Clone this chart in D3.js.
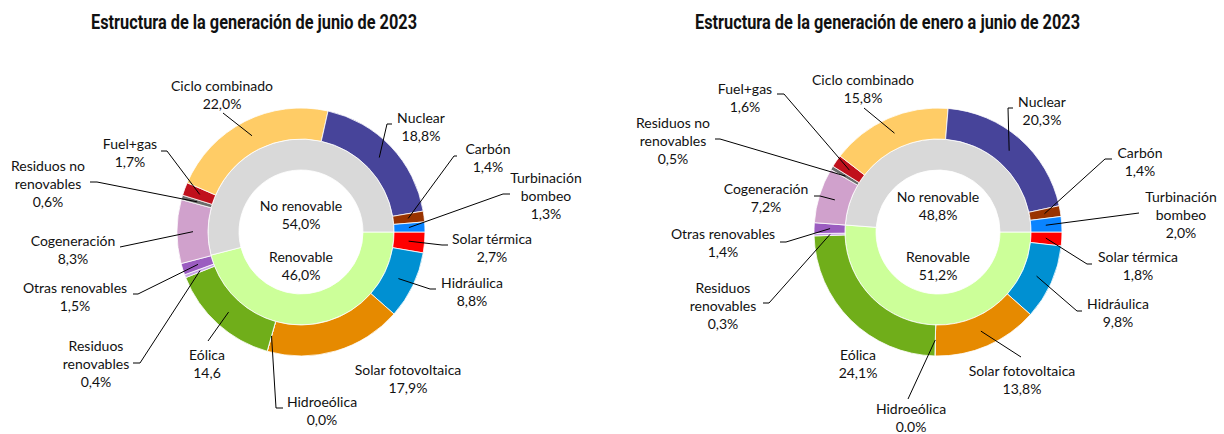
<!DOCTYPE html>
<html>
<head>
<meta charset="utf-8">
<script src="https://cdn.jsdelivr.net/npm/d3@7"></script>
<style>
  body { margin: 0; background: #fff; }
  .lbl { font-family: Lato, "Open Sans", sans-serif; font-size: 14px; fill: #111; }
  .title { font-family: Roboto, "DejaVu Sans", sans-serif; font-weight: 700; font-size: 21px; fill: #111; }
</style>
</head>
<body>
<div id="chart"></div>
<script>
// Fuentes de generacion, en el orden del anillo (desde las 3 en punto, sentido horario)
var sources = ["Solar térmica", "Hidráulica", "Solar fotovoltaica", "Hidroeólica", "Eólica",
  "Residuos renovables", "Otras renovables", "Cogeneración", "Residuos no renovables",
  "Fuel+gas", "Ciclo combinado", "Nuclear", "Carbón", "Turbinación bombeo"]
var sourceLines = [["Solar térmica"], ["Hidráulica"], ["Solar fotovoltaica"], ["Hidroeólica"], ["Eólica"],
  ["Residuos", "renovables"], ["Otras renovables"], ["Cogeneración"], ["Residuos no", "renovables"],
  ["Fuel+gas"], ["Ciclo combinado"], ["Nuclear"], ["Carbón"], ["Turbinación", "bombeo"]]
var sourceColors = ["#ff0000", "#0090d2", "#e68a00", "#5b9bd5", "#70ae1a",
  "#c7a3e6", "#9b5cc0", "#d0a1cc", "#6b6b6b", "#c0101c", "#ffcc66", "#47449a", "#993300", "#0a84ff"]

// junio 2023 (%)
var junio = [2.7, 8.8, 17.9, 0.0, 14.6, 0.4, 1.5, 8.3, 0.6, 1.7, 22.0, 18.8, 1.4, 1.3]
var junioLabels = ["2,7%", "8,8%", "17,9%", "0,0%", "14,6", "0,4%", "1,5%", "8,3%", "0,6%", "1,7%", "22,0%", "18,8%", "1,4%", "1,3%"]

// enero a junio 2023 (%)
var eneroJunio = [1.8, 9.8, 13.8, 0.0, 24.1, 0.3, 1.4, 7.2, 0.5, 1.6, 15.8, 20.3, 1.4, 2.0]
var eneroJunioLabels = ["1,8%", "9,8%", "13,8%", "0.0%", "24,1%", "0,3%", "1,4%", "7,2%", "0,5%", "1,6%", "15,8%", "20,3%", "1,4%", "2,0%"]

// anillo interior
var groups = ["Renovable", "No renovable"]
var groupColors = ["#ccff99", "#d9d9d9"]
var junioGroups = [46.0, 54.0]
var junioGroupLabels = ["46,0%", "54,0%"]
var eneroJunioGroups = [51.2, 48.8]
var eneroJunioGroupLabels = ["51,2%", "48,8%"]

// posiciones de etiquetas relativas al centro: [texto x, texto y, enganche x, enganche y, codo x, codo y]
var layoutJunio = [
  [191, 6, 147, 13, 141, 13],
  [171, 50, 135, 57, 129, 57],
  [107, 137, null],
  [21, 169, -18, 176, -25, 176],
  [-94, 122, -93, 109, -93, 109],
  [-205, 113, -168, 131, -161, 131],
  [-226, 55, -168, 62, -163, 62],
  [-228, 8, -181, 15, -181, 15],
  [-253, -67, -211, -50, -204, -50],
  [-171, -89, -140, -81, -134, -81],
  [-79, -147, -78, -119, -78, -119],
  [120, -115, 91, -108, 86, -108],
  [187, -84, 156, -76, 153, -76],
  [245, -55, 209, -38, 202, -38]
]
var layoutEnero = [
  [200, 24, 154, 32, 149, 32],
  [180, 71, 144, 79, 139, 79],
  [84, 138, 83, 125, 83, 125],
  [-27, 176, -30, 167, -30, 167],
  [-80, 122, null],
  [-215, 55, -175, 71, -169, 71],
  [-215, 1, -158, 10, -152, 10],
  [-172, -44, -124, -36, -118, -36],
  [-265, -110, -223, -93, -218, -93],
  [-193, -144, -161, -138, -154, -138],
  [-75, -153, -74, -124, -74, -124],
  [104, -131, 75, -124, 70, -124],
  [202, -80, 174, -73, 167, -73],
  [243, -36, 201, -19, 201, -19]
]

var width = 1224, height = 434
var rOuter = 124, rMid = 93, rInner = 62

var svg = d3.select("#chart").append("svg")
  .attr("width", width)
  .attr("height", height)

var pie = d3.pie().sort(null).value(d => d)
  .startAngle(Math.PI / 2).endAngle(Math.PI / 2 + 2 * Math.PI)

var outerArc = d3.arc().innerRadius(rMid).outerRadius(rOuter)
var innerArc = d3.arc().innerRadius(rInner).outerRadius(rMid)
var midArc = d3.arc().innerRadius(108).outerRadius(108)

function addText(g, x, y, lines) {
  var t = g.append("text")
    .attr("class", "lbl")
    .attr("text-anchor", "middle")
  lines.forEach((l, i) => {
    t.append("tspan")
      .attr("x", x)
      .attr("y", y + i * 18)
      .attr("dominant-baseline", "central")
      .text(l)
  })
}

function drawDonut(opts) {
  var g = svg.append("g")
    .attr("transform", "translate(" + opts.cx + "," + opts.cy + ")")

  // anillo interior
  var gArcs = pie(opts.groupValues)
  g.selectAll(".inner")
    .data(gArcs)
    .enter()
    .append("path")
    .attr("class", "inner")
    .attr("d", innerArc)
    .attr("fill", (d, i) => groupColors[i])
    .attr("stroke", "#fff")
    .attr("stroke-width", 0.8)

  // anillo exterior
  var arcs = pie(opts.values)
  g.selectAll(".outer")
    .data(arcs)
    .enter()
    .append("path")
    .attr("class", "outer")
    .attr("d", outerArc)
    .attr("fill", (d, i) => sourceColors[i])
    .attr("stroke", "#fff")
    .attr("stroke-width", 0.8)

  // lineas guia
  var line = d3.line()
  arcs.forEach((d, i) => {
    var p = opts.layout[i]
    if (p[2] === null || p[2] === undefined) return
    var c = midArc.centroid(d)
    g.append("path")
      .attr("d", line([[p[2], p[3]], [p[4], p[5]], c]))
      .attr("fill", "none")
      .attr("stroke", "#000")
      .attr("stroke-width", 1)
  })

  // etiquetas exteriores
  arcs.forEach((d, i) => {
    var p = opts.layout[i]
    addText(g, p[0], p[1], sourceLines[i].concat([opts.valueLabels[i]]))
  })

  // etiquetas interiores
  addText(g, 0, opts.innerY[1], [groups[1], opts.groupLabels[1]])
  addText(g, 0, opts.innerY[0], [groups[0], opts.groupLabels[0]])

  svg.append("text")
    .attr("class", "title")
    .attr("x", opts.titleX)
    .attr("y", 29)
    .attr("textLength", opts.titleW)
    .attr("lengthAdjust", "spacingAndGlyphs")
    .text(opts.title)
}

drawDonut({
  cx: 301, cy: 232,
  values: junio, valueLabels: junioLabels,
  groupValues: junioGroups, groupLabels: junioGroupLabels,
  layout: layoutJunio, innerY: [24, -27],
  title: "Estructura de la generación de junio de 2023", titleX: 91, titleW: 326
})

drawDonut({
  cx: 938, cy: 232,
  values: eneroJunio, valueLabels: eneroJunioLabels,
  groupValues: eneroJunioGroups, groupLabels: eneroJunioGroupLabels,
  layout: layoutEnero, innerY: [24, -36],
  title: "Estructura de la generación de enero a junio de 2023", titleX: 695, titleW: 385
})
</script>
</body>
</html>
